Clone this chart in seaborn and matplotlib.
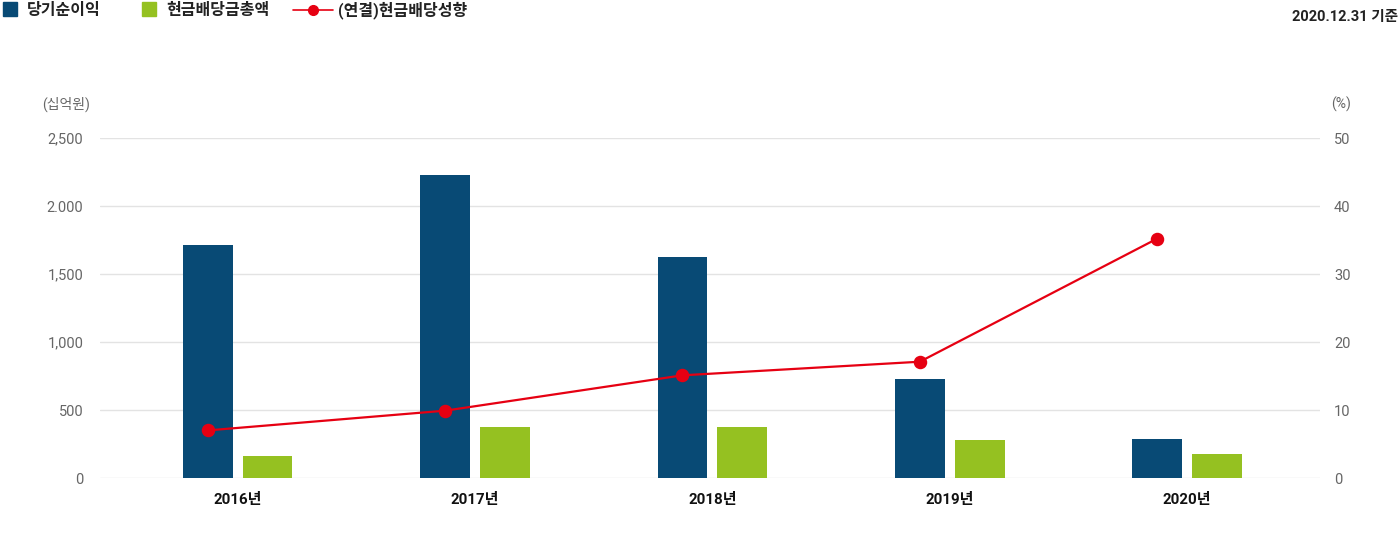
import matplotlib
matplotlib.use("Agg")
import matplotlib.pyplot as plt
from matplotlib.lines import Line2D
import seaborn as sns
import pandas as pd

# ---- data ----
years = ["2016년", "2017년", "2018년", "2019년", "2020년"]
net_income = [1713, 2228, 1625, 728, 287]          # 당기순이익 (십억원)
dividends = [162, 375, 375, 279, 176]              # 현금배당금총액 (십억원)
payout_ratio = [7.0, 9.9, 15.1, 17.1, 35.2]         # (연결)현금배당성향 (%)
left_ticks = [0, 500, 1000, 1500, 2000, 2500]
left_tick_labels = ["0", "500", "1,000", "1,500", "2.000", "2,500"]
right_ticks = [0, 10, 20, 30, 40, 50]
series_names = ["당기순이익", "현금배당금총액", "(연결)현금배당성향"]

NAVY = "#084a75"
GREEN = "#95c121"
RED = "#e60012"
GRAY = "#666666"

sns.set_theme(style="white")
FONT = ["Roboto", "Noto Sans CJK KR", "DejaVu Sans"]
plt.rcParams["font.family"] = FONT

df = pd.DataFrame({
    "year": years * 2,
    "value": net_income + dividends,
    "series": [series_names[0]] * len(years) + [series_names[1]] * len(years),
})

fig = plt.figure(figsize=(14, 5.47), dpi=100)
W, H = 1400, 547
rect = [100 / W, 1 - 478 / H, 1220 / W, 340 / H]
ax = fig.add_axes(rect)

BAR_TOTAL = 0.504
sns.barplot(data=df, x="year", y="value", hue="series", order=years,
            hue_order=series_names[:2], palette=[NAVY, GREEN],
            width=BAR_TOTAL, gap=0.167, saturation=1, ax=ax, legend=False,
            edgecolor="none", linewidth=0)

XLIM = (-0.58, 4.56)
ax.set_xlim(*XLIM)
ax.set_ylim(0, 2500)
ax.set_yticks(left_ticks)
ax.set_yticklabels(left_tick_labels)
ax.yaxis.grid(True, color="#e3e3e3", linewidth=1)
ax.set_axisbelow(True)
ax.tick_params(axis="y", length=0, pad=12, labelcolor=GRAY, labelsize=10.5)
ax.tick_params(axis="x", length=0, pad=11, labelsize=10.8, labelcolor="#111111")
for lbl in ax.get_xticklabels():
    lbl.set_fontweight("bold")
ax.set_xlabel("")
ax.set_ylabel("")
for s in ax.spines.values():
    s.set_visible(False)

# overlay axes for the ratio line: points sit above the navy bars
ax2 = fig.add_axes(rect)
ax2.patch.set_alpha(0)
sns.pointplot(x=years, y=payout_ratio, order=years, color=RED, ax=ax2,
              markers="o", markersize=8.5, linewidth=1.6, errorbar=None)
shift = BAR_TOTAL / 4
ax2.set_xlim(XLIM[0] + shift, XLIM[1] + shift)
ax2.set_xticks([])
ax2.set_xlabel("")
ax2.set_ylim(0, 50)
ax2.yaxis.tick_right()
ax2.set_yticks(right_ticks)
ax2.set_yticklabels([str(t) for t in right_ticks])
ax2.tick_params(axis="y", length=0, pad=10, labelcolor=GRAY, labelsize=10.5)
ax2.set_ylabel("")
ax2.grid(False)
for s in ax2.spines.values():
    s.set_visible(False)

# axis unit labels
fig.text(66 / W, 1 - 104 / H, "(십억원)", ha="center", va="center",
         fontsize=10, color=GRAY)
fig.text(1341 / W, 1 - 104 / H, "(%)", ha="center", va="center",
         fontsize=10, color=GRAY)

# date
fig.text(1398 / W, 1 - 17 / H, "2020.12.31 기준", ha="right", va="center",
         fontsize=10.5, color="#222222", fontweight="semibold")

# legends
leg_kw = dict(loc="center left", frameon=False, borderpad=0, borderaxespad=0,
              prop={"family": FONT, "size": 11.5, "weight": "bold"},
              labelcolor="#222222")
h1 = Line2D([], [], marker="s", linestyle="none", color=NAVY, markersize=10)
h2 = Line2D([], [], marker="s", linestyle="none", color=GREEN, markersize=10)
h3 = Line2D([], [], marker="o", color=RED, markersize=7, linewidth=1.2)
fig.legend([h1], [series_names[0]], bbox_to_anchor=(3 / W, 1 - 10 / H),
           handlelength=0.88, handletextpad=0.62, **leg_kw)
fig.legend([h2], [series_names[1]], bbox_to_anchor=(142 / W, 1 - 10 / H),
           handlelength=0.88, handletextpad=0.62, **leg_kw)
fig.legend([h3], [series_names[2]], bbox_to_anchor=(293 / W, 1 - 10 / H),
           handlelength=2.5, handletextpad=0.3, **leg_kw)

fig.savefig("out.png", dpi=100)
